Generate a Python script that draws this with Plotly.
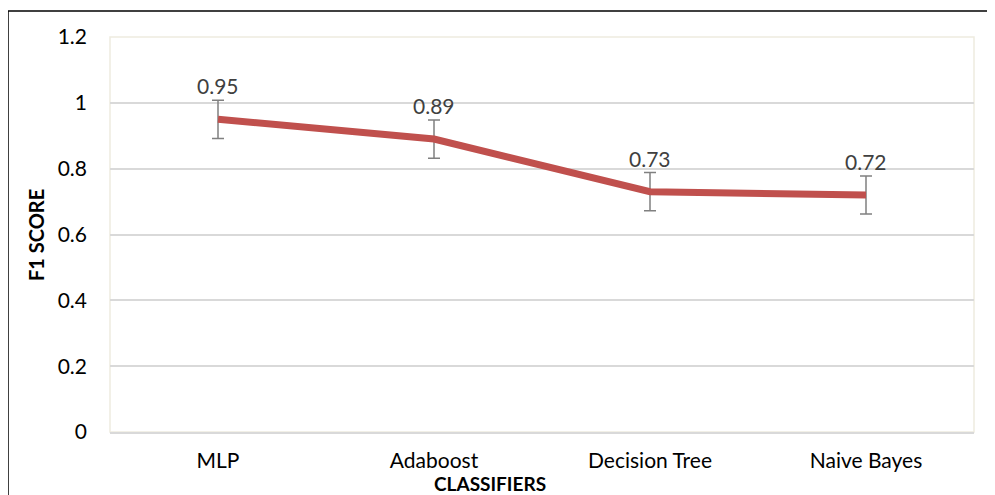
import plotly.graph_objects as go

classifiers = ["MLP", "Adaboost", "Decision Tree", "Naive Bayes"]
f1_scores = [0.95, 0.89, 0.73, 0.72]
errors = [0.058, 0.058, 0.058, 0.058]
y_ticks = [0, 0.2, 0.4, 0.6, 0.8, 1, 1.2]
y_tick_labels = ["0", "0.2", "0.4", "0.6", "0.8", "1", "1.2"]

# page body has an 8px margin; size the figure to fit the 995x495 window
OFF = 8
W, H = 995 - OFF, 495 - OFF
L, R, T, B = 110 - OFF, 21, 37 - OFF, 63
pw, ph = W - L - R, H - T - B

FONT = "Lato"

fig = go.Figure()
fig.add_trace(go.Scatter(
    x=classifiers, y=f1_scores, mode="lines",
    line=dict(color="#C0504D", width=7),
    error_y=dict(type="data", array=errors, visible=True,
                 color="#808080", thickness=1.5, width=6),
    hoverinfo="skip", showlegend=False,
))

for c, v, e in zip(classifiers, f1_scores, errors):
    fig.add_annotation(x=c, y=v + e, text=f"{v:.2f}", showarrow=False,
                       yanchor="bottom", yshift=0,
                       font=dict(family=FONT, size=21, color="#404040"))

def px_x(p):
    return (p - OFF - L) / pw

def px_y(p):
    return (H - B - (p - OFF)) / ph

shapes = [
    dict(type="rect", xref="paper", yref="paper", x0=0, x1=1, y0=0, y1=1,
         line=dict(color="#EEEBE0", width=1.5), layer="below"),
    dict(type="line", xref="paper", yref="paper", x0=px_x(8), x1=px_x(1010),
         y0=px_y(11), y1=px_y(11), line=dict(color="black", width=1.5)),
    dict(type="line", xref="paper", yref="paper", x0=px_x(8), x1=px_x(8),
         y0=px_y(11), y1=px_y(510), line=dict(color="black", width=1.5)),
]

fig.add_annotation(xref="paper", yref="paper", x=px_x(490), y=px_y(483),
                   xanchor="center", yanchor="middle",
                   text="<b>CLASSIFIERS</b>", showarrow=False,
                   font=dict(family=FONT, size=19, color="black"))
fig.add_annotation(xref="paper", yref="paper", x=px_x(36), y=px_y(235),
                   xanchor="center", yanchor="middle",
                   text="<b>F1 SCORE</b>", showarrow=False, textangle=-90,
                   font=dict(family=FONT, size=20, color="black"))

fig.update_layout(
    width=W, height=H,
    margin=dict(l=L, r=R, t=T, b=B),
    paper_bgcolor="white", plot_bgcolor="white",
    shapes=shapes,
    xaxis=dict(range=[-0.5, 3.5], showgrid=False, showline=True,
               linecolor="#D9D9D9", linewidth=1.5, ticks="",
               tickfont=dict(family=FONT, size=21, color="black"),
               ticklabelstandoff=9, zeroline=False),
    yaxis=dict(range=[0, 1.2], tickvals=y_ticks, ticktext=y_tick_labels,
               showgrid=True, gridcolor="#D9D9D9", gridwidth=1.5,
               zeroline=False, showline=False, ticks="",
               tickfont=dict(family=FONT, size=21, color="black"),
               ticklabelstandoff=22),
)

fig.write_html("out.html")
